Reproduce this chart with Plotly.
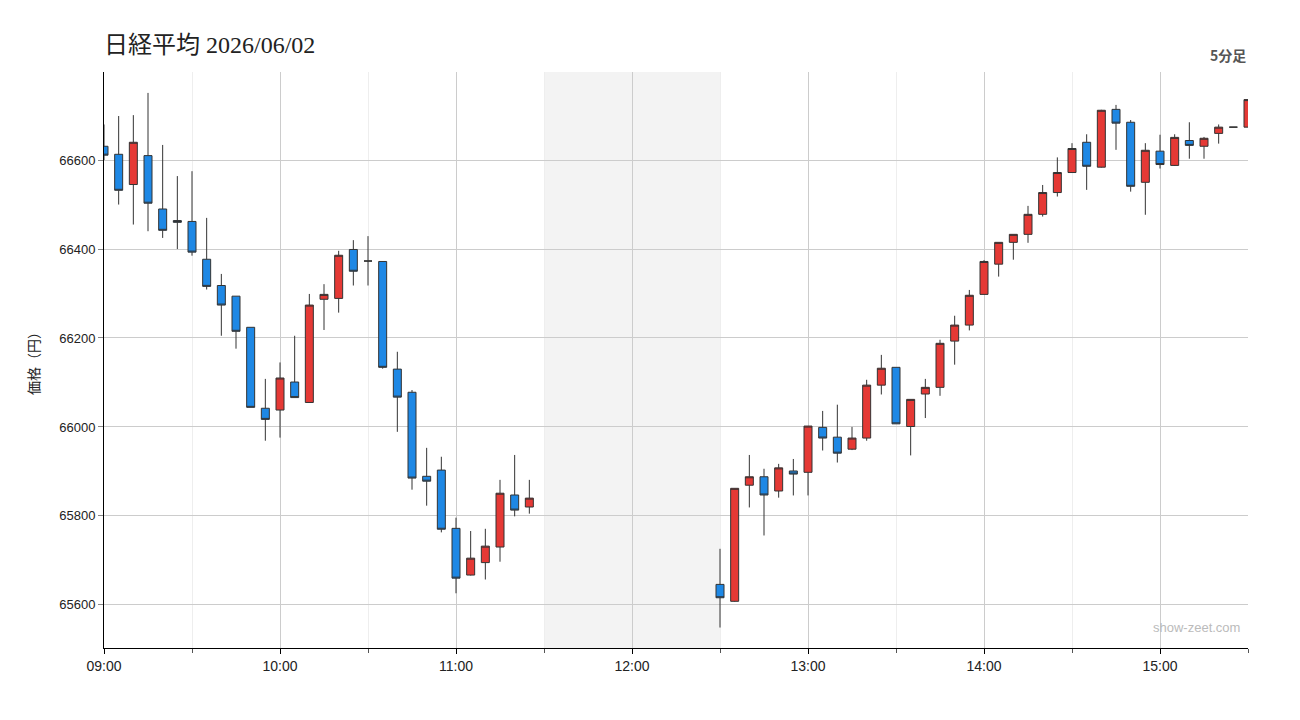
import plotly.graph_objects as go

DATE = "2026-06-02"

times = [
    "09:00", "09:05", "09:10", "09:15", "09:20", "09:25", "09:30", "09:35", "09:40", "09:45",
    "09:50", "09:55", "10:00", "10:05", "10:10", "10:15", "10:20", "10:25", "10:30", "10:35",
    "10:40", "10:45", "10:50", "10:55", "11:00", "11:05", "11:10", "11:15", "11:20", "11:25",
    "12:30", "12:35", "12:40", "12:45", "12:50", "12:55", "13:00", "13:05", "13:10", "13:15",
    "13:20", "13:25", "13:30", "13:35", "13:40", "13:45", "13:50", "13:55", "14:00", "14:05",
    "14:10", "14:15", "14:20", "14:25", "14:30", "14:35", "14:40", "14:45", "14:50", "14:55",
    "15:00", "15:05", "15:10", "15:15", "15:20", "15:25", "15:30",
]

open_ = [
    66631, 66613, 66545, 66610, 66490, 66464, 66462, 66377, 66318, 66294,
    66224, 66042, 66038, 66101, 66055, 66287, 66289, 66399, 66373, 66372,
    66130, 66078, 65889, 65903, 65772, 65667, 65695, 65730, 65847, 65820,
    65646, 65608, 65869, 65888, 65856, 65901, 65898, 65999, 65977, 65950,
    65975, 66094, 66134, 66001, 66074, 66089, 66193, 66229, 66298, 66366,
    66415, 66433, 66478, 66527, 66572, 66640, 66584, 66714, 66685, 66550,
    66620, 66588, 66644, 66631, 66660, 66674, 66674,
]
high = [
    66680, 66699, 66701, 66751, 66634, 66564, 66575, 66470, 66344, 66294,
    66224, 66108, 66145, 66205, 66299, 66321, 66396, 66420, 66429, 66372,
    66169, 66083, 65953, 65933, 65796, 65766, 65771, 65881, 65937, 65881,
    65726, 65862, 65937, 65906, 65917, 65928, 66002, 66036, 66050, 66000,
    66106, 66162, 66134, 66062, 66108, 66196, 66250, 66308, 66375, 66415,
    66433, 66497, 66544, 66606, 66638, 66658, 66713, 66724, 66690, 66638,
    66657, 66658, 66685, 66652, 66680, 66674, 66736,
]
low = [
    66600, 66500, 66455, 66440, 66425, 66400, 66385, 66309, 66205, 66176,
    66044, 65969, 65976, 66066, 66055, 66218, 66257, 66318, 66318, 66131,
    65989, 65859, 65823, 65763, 65626, 65666, 65657, 65697, 65799, 65805,
    65549, 65607, 65819, 65756, 65841, 65846, 65846, 65947, 65920, 65948,
    65969, 66073, 66007, 65936, 66020, 66070, 66140, 66217, 66298, 66338,
    66376, 66414, 66473, 66518, 66572, 66533, 66583, 66623, 66529, 66477,
    66581, 66587, 66603, 66603, 66637, 66674, 66674,
]
close = [
    66611, 66532, 66640, 66503, 66442, 66460, 66393, 66316, 66274, 66215,
    66044, 66017, 66110, 66066, 66274, 66298, 66386, 66350, 66373, 66134,
    66067, 65885, 65878, 65770, 65660, 65705, 65732, 65851, 65813, 65840,
    65616, 65862, 65888, 65847, 65908, 65894, 66002, 65975, 65941, 65975,
    66094, 66132, 66007, 66062, 66089, 66188, 66229, 66296, 66372, 66415,
    66433, 66478, 66527, 66572, 66626, 66586, 66712, 66683, 66541, 66622,
    66590, 66651, 66633, 66649, 66674, 66674, 66736,
]

y_ticks = [65600, 65800, 66000, 66200, 66400, 66600]
x_tick_labels = ["09:00", "10:00", "11:00", "12:00", "13:00", "14:00", "15:00"]
lunch = ("11:30", "12:30")

x = [f"{DATE} {t}" for t in times]

UP = "#E53935"
DOWN = "#1E88E5"
FONT = "Liberation Sans, Noto Sans CJK JP, sans-serif"

fig = go.Figure()
fig.add_trace(go.Candlestick(
    x=x, open=open_, high=high, low=low, close=close,
    increasing=dict(fillcolor=UP, line=dict(color="#333333", width=1)),
    decreasing=dict(fillcolor=DOWN, line=dict(color="#333333", width=1)),
    whiskerwidth=0,
    showlegend=False,
))

fig.add_vrect(x0=f"{DATE} {lunch[0]}", x1=f"{DATE} {lunch[1]}",
              fillcolor="#f3f3f3", line_width=0, layer="below")

fig.update_layout(
    width=1300, height=720,
    margin=dict(l=104, r=52, t=72, b=72),
    paper_bgcolor="white", plot_bgcolor="white",
    boxgap=0.22,
    font=dict(family=FONT, size=13, color="#222"),
    title=dict(text="日経平均 2026/06/02", x=104 / 1300, xanchor="left",
               y=1 - 45 / 720, yanchor="middle",
               font=dict(family="Liberation Serif, Noto Sans CJK JP, serif", size=24, color="#222")),
    xaxis=dict(
        type="date",
        range=[f"{DATE} 09:00", f"{DATE} 15:30"],
        tickvals=[f"{DATE} {t}" for t in x_tick_labels],
        ticktext=x_tick_labels,
        showgrid=True, gridcolor="#cccccc", gridwidth=1,
        showline=True, linecolor="black", linewidth=1,
        ticks="outside", ticklen=5, tickcolor="black",
        rangeslider=dict(visible=False),
        minor=dict(dtick=30 * 60 * 1000, tick0=f"{DATE} 09:00", showgrid=True,
                   gridcolor="#eeeeee", ticks="outside", ticklen=4, tickcolor="#555"),
        zeroline=False,
        tickfont=dict(size=14, color="#222"),
    ),
    yaxis=dict(
        range=[65503, 66798],
        tickvals=y_ticks,
        ticktext=[str(v) for v in y_ticks],
        showgrid=True, gridcolor="#cccccc", gridwidth=1,
        showline=True, linecolor="black", linewidth=1,
        ticks="outside", ticklen=5, tickcolor="#888",
        zeroline=False,
        title=dict(text="価格（円）", font=dict(size=14, family="Noto Sans CJK JP", color="#222"),
                   standoff=16),
        tickfont=dict(size=13, color="#222"),
    ),
    hovermode=False,
)

fig.add_annotation(text="<b>5分足</b>", xref="paper", yref="paper", x=1, y=1 + 17 / 576,
                   xanchor="right", yanchor="middle", showarrow=False,
                   font=dict(size=14, color="#555", family="Noto Sans CJK JP"))
fig.add_annotation(text="show-zeet.com", xref="paper", yref="paper", x=1 - 6 / 1144, y=21 / 576,
                   xanchor="right", yanchor="middle", showarrow=False,
                   font=dict(size=13, color="#bbbbbb", family=FONT))

fig.write_html("out.html")
